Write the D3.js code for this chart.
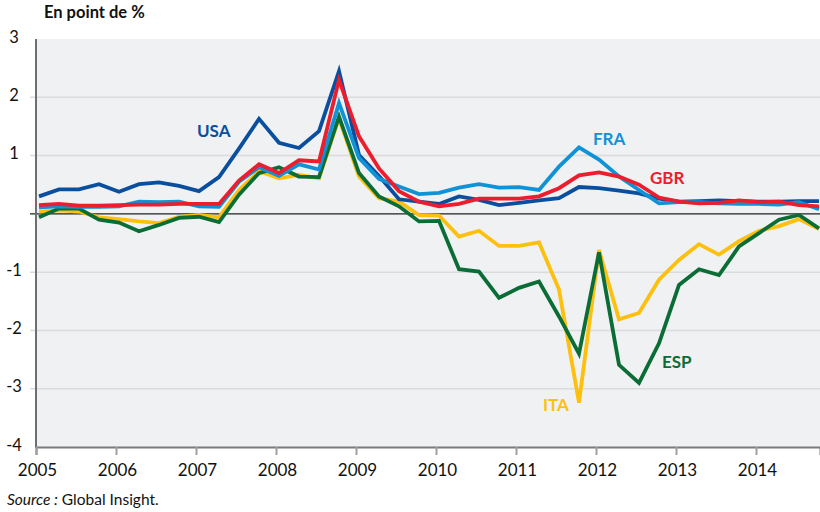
<!DOCTYPE html>
<html>
<head>
<meta charset="utf-8">
<script src="https://cdn.jsdelivr.net/npm/d3@7/dist/d3.min.js"></script>
<style>
    body { margin: 0; background: #fff; }
    svg text { font-family: Lato, "Noto Sans", sans-serif; fill: #111; }
</style>
</head>
<body>
<svg id="chart" width="820" height="512"></svg>
<script>
// quarterly values, 2005 T1 -> 2014 T4
const years = [2005, 2006, 2007, 2008, 2009, 2010, 2011, 2012, 2013, 2014];
const yTicks = [3, 2, 1, 0, -1, -2, -3, -4];

const usa = [0.30, 0.42, 0.42, 0.51, 0.38, 0.51, 0.54, 0.48, 0.39, 0.63,
    1.12, 1.63, 1.22, 1.13, 1.42, 2.45, 1.01, 0.65, 0.25, 0.21,
    0.17, 0.30, 0.24, 0.15, 0.19, 0.23, 0.27, 0.46, 0.44, 0.40,
    0.35, 0.26, 0.21, 0.22, 0.23, 0.22, 0.21, 0.21, 0.22, 0.22];
const fra = [0.11, 0.13, 0.12, 0.12, 0.13, 0.21, 0.20, 0.21, 0.13, 0.12,
    0.55, 0.80, 0.65, 0.85, 0.76, 1.90, 0.96, 0.60, 0.47, 0.34,
    0.36, 0.45, 0.51, 0.45, 0.46, 0.41, 0.81, 1.14, 0.93, 0.64,
    0.41, 0.18, 0.20, 0.20, 0.18, 0.17, 0.17, 0.16, 0.20, 0.08];
const gbr = [0.15, 0.17, 0.14, 0.14, 0.15, 0.16, 0.16, 0.17, 0.17, 0.17,
    0.57, 0.85, 0.70, 0.92, 0.90, 2.30, 1.33, 0.78, 0.39, 0.21,
    0.13, 0.17, 0.26, 0.26, 0.26, 0.30, 0.44, 0.66, 0.71, 0.64,
    0.50, 0.28, 0.21, 0.18, 0.19, 0.23, 0.20, 0.21, 0.15, 0.13];
const ita = [0.04, 0.06, 0.04, -0.06, -0.09, -0.13, -0.16, -0.05, -0.02, -0.06,
    0.41, 0.73, 0.61, 0.67, 0.61, 1.64, 0.64, 0.27, 0.21, -0.02,
    -0.03, -0.39, -0.29, -0.55, -0.55, -0.49, -1.30, -3.24, -0.62, -1.81,
    -1.70, -1.13, -0.79, -0.52, -0.70, -0.47, -0.29, -0.21, -0.09, -0.26];
const esp = [-0.06, 0.09, 0.09, -0.10, -0.15, -0.30, -0.19, -0.07, -0.05, -0.14,
    0.33, 0.70, 0.80, 0.64, 0.63, 1.67, 0.70, 0.30, 0.13, -0.13,
    -0.12, -0.95, -0.99, -1.44, -1.27, -1.16, -1.76, -2.40, -0.66, -2.59,
    -2.90, -2.22, -1.22, -0.95, -1.05, -0.56, -0.33, -0.10, -0.02, -0.25];

// drawing order = bottom to top
const series = [
    { name: "ITA", values: ita, color: "#fdc00f", lx: 543, ly: 411 },
    { name: "ESP", values: esp, color: "#0b6d36", lx: 662, ly: 368 },
    { name: "USA", values: usa, color: "#0a4f9e", lx: 197, ly: 137 },
    { name: "FRA", values: fra, color: "#0f93d6", lx: 593, ly: 145 },
    { name: "GBR", values: gbr, color: "#ec1d2c", lx: 650, ly: 184 }
];

const mLeft = 36, mRight = 820, mTop = 39, mBottom = 447;

const x = d3.scaleLinear().domain([2005, 2014.8]).range([mLeft, mRight]);
const y = d3.scaleLinear().domain([-4, 3]).range([mBottom, mTop]);

// a quarter is drawn slightly after its start
function qx(i) { return x(2005 + (i + 0.15) / 4); }

const svg = d3.select("#chart");

svg.append("rect")
    .attr("x", mLeft).attr("y", mTop)
    .attr("width", mRight - mLeft).attr("height", mBottom - mTop)
    .attr("fill", "#f0f1f3");

// gridlines
svg.append("g").selectAll("line")
    .data(yTicks.filter(d => d > -4 && d < 3 && d !== 0))
    .enter().append("line")
    .attr("x1", mLeft - 6).attr("x2", mRight)
    .attr("y1", d => y(d)).attr("y2", d => y(d))
    .attr("stroke", "#dadbdd").attr("stroke-width", 1.5);

svg.append("line")
    .attr("x1", mLeft - 6).attr("x2", mRight)
    .attr("y1", y(0)).attr("y2", y(0))
    .attr("stroke", "#222").attr("stroke-width", 1.2);

// y labels (no label on the zero line)
svg.append("g").selectAll("text")
    .data(yTicks.filter(d => d !== 0))
    .enter().append("text")
    .attr("x", 14)
    .attr("y", d => y(d) - 2)
    .attr("dy", "0.35em")
    .attr("text-anchor", "middle")
    .attr("font-size", 16.5)
    .text(d => d);

// axes
svg.append("line")
    .attr("x1", mLeft).attr("x2", mLeft)
    .attr("y1", mTop).attr("y2", mBottom + 1)
    .attr("stroke", "#6f6f6f").attr("stroke-width", 2);

const xAxis = svg.append("g")
    .attr("transform", "translate(0," + mBottom + ")")
    .call(d3.axisBottom(x).tickValues(years).tickFormat(d3.format("d")).tickSize(8).tickPadding(9));
xAxis.select(".domain").attr("stroke", "#7a7a7a").attr("stroke-width", 2);
xAxis.selectAll(".tick line").attr("stroke", "#a0a0a0").attr("stroke-width", 2);
xAxis.selectAll(".tick text")
    .attr("font-size", 17)
    .attr("font-family", "Lato, 'Noto Sans', sans-serif")
    .attr("fill", "#111")
    .attr("dx", 1);

// lines
const line = d3.line()
    .x((d, i) => qx(i))
    .y(d => y(d));

svg.append("g").selectAll("path")
    .data(series)
    .enter().append("path")
    .attr("d", d => line(d.values))
    .attr("fill", "none")
    .attr("stroke", d => d.color)
    .attr("stroke-width", 3.8)
    .attr("stroke-linejoin", "miter");

svg.append("g").selectAll("text")
    .data(series)
    .enter().append("text")
    .attr("x", d => d.lx)
    .attr("y", d => d.ly)
    .attr("font-size", 17)
    .attr("font-weight", "bold")
    .style("fill", d => d.color)
    .text(d => d.name);

// title & source
svg.append("text")
    .attr("x", 44).attr("y", 18)
    .attr("font-size", 16.5)
    .attr("font-weight", "bold")
    .text("En point de %");

const src = svg.append("text")
    .attr("x", 7).attr("y", 505)
    .attr("font-size", 15.5);
src.append("tspan").attr("font-style", "italic").text("Source :");
src.append("tspan").text(" Global Insight.");
</script>
</body>
</html>
